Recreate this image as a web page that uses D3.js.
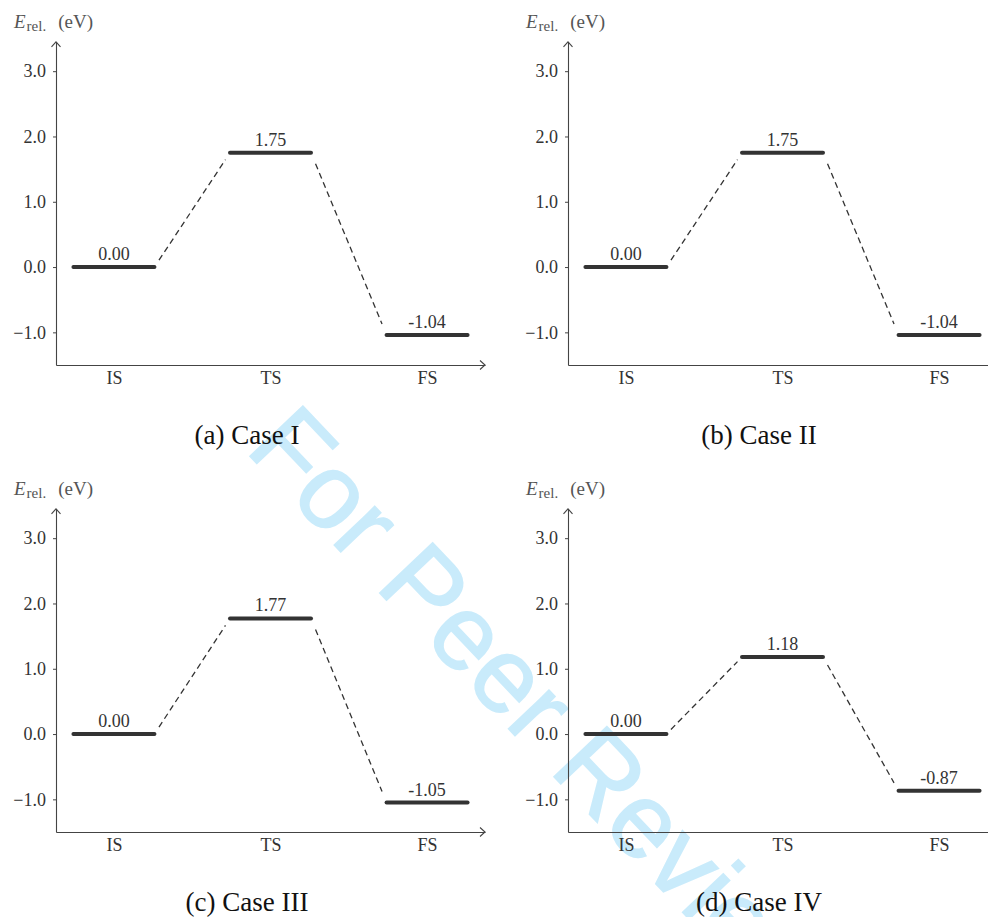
<!DOCTYPE html>
<html>
<head>
<meta charset="utf-8">
<script src="https://cdn.jsdelivr.net/npm/d3@7"></script>
<style>
  html, body { margin: 0; padding: 0; background: #fff; }
  svg { display: block; }
</style>
</head>
<body>
<svg id="chart" width="988" height="917"></svg>
<script>
// ---------- data ----------
const categories = ["IS", "TS", "FS"];
const caseI   = [0.00, 1.75, -1.04];
const caseII  = [0.00, 1.75, -1.04];
const caseIII = [0.00, 1.77, -1.05];
const caseIV  = [0.00, 1.18, -0.87];
const captions = ["(a) Case I", "(b) Case II", "(c) Case III", "(d) Case IV"];
const yTicks = [-1.0, 0.0, 1.0, 2.0, 3.0];
const yDomain = [-1.5, 3.45];
const watermarkText = "For Peer Review";

const seriesList = [caseI, caseII, caseIII, caseIV];

// ---------- layout ----------
const svg = d3.select("#chart");
const serif = "'Liberation Serif', 'Times New Roman', serif";
const panelOffsets = [[0, 0], [512, 0], [0, 467], [512, 467]];
const axX0 = 56, axX1 = 485, axY0 = 365, axY1 = 41.8;
const barHalf = 40.5;

// watermark underneath
const wm = svg.append("g").attr("transform", "translate(244,450) rotate(46.5)");
wm.append("text")
  .attr("x", 0).attr("y", 0)
  .attr("font-family", "'Liberation Sans', Arial, sans-serif")
  .attr("font-size", 106)
  .attr("fill", "#c9ebfb")
  .attr("stroke", "#c9ebfb").attr("stroke-width", 1.5)
  .text(watermarkText);

const y = d3.scaleLinear().domain(yDomain).range([axY0, axY1]);
const x = d3.scalePoint().domain(categories).range([axX0, axX1]).padding(0.37);
const fmtTick = d3.format(".1f");
const fmtVal = v => v.toFixed(2);

seriesList.forEach((vals, pi) => {
  const [dx, dy] = panelOffsets[pi];
  const g = svg.append("g").attr("transform", `translate(${dx},${dy})`);

  // y axis
  const yAxis = d3.axisLeft(y).tickValues(yTicks).tickSize(3).tickSizeOuter(0)
    .tickPadding(7).tickFormat(fmtTick);
  const ya = g.append("g").attr("transform", `translate(${axX0},0)`).call(yAxis);
  ya.select(".domain").attr("stroke", "#444").attr("stroke-width", 1.1);
  ya.selectAll(".tick line").attr("stroke", "#444");
  ya.selectAll(".tick text").attr("font-family", serif).attr("font-size", 18).attr("fill", "#333");

  // x axis
  const xAxis = d3.axisBottom(x).tickSize(0).tickSizeOuter(0).tickPadding(6.5);
  const xa = g.append("g").attr("transform", `translate(0,${axY0})`).call(xAxis);
  xa.select(".domain").attr("stroke", "#444").attr("stroke-width", 1.1);
  xa.selectAll(".tick text").attr("font-family", serif).attr("font-size", 18).attr("fill", "#333");

  // arrowheads
  g.append("path")
    .attr("d", `M${axX0 - 4.5},${axY1 + 5} L${axX0},${axY1} L${axX0 + 4.5},${axY1 + 5}`)
    .attr("fill", "none").attr("stroke", "#444").attr("stroke-width", 1.1);
  g.append("path")
    .attr("d", `M${axX1 - 5},${axY0 - 4.5} L${axX1},${axY0} L${axX1 - 5},${axY0 + 4.5}`)
    .attr("fill", "none").attr("stroke", "#444").attr("stroke-width", 1.1);

  // y label
  const lab = g.append("text").attr("x", 14).attr("y", 28)
    .attr("font-family", serif).attr("fill", "#555").attr("font-size", 19);
  lab.append("tspan").attr("font-style", "italic").text("E");
  lab.append("tspan").attr("font-size", 15).attr("dy", 3).attr("dx", 1).text("rel.");
  lab.append("tspan").attr("dy", -3).attr("dx", 12).text("(eV)");

  // dashed connectors
  const shrink = 0.06;
  for (let i = 0; i < categories.length - 1; i++) {
    const x1 = x(categories[i]) + barHalf, y1 = y(vals[i]);
    const x2 = x(categories[i + 1]) - barHalf, y2 = y(vals[i + 1]);
    g.append("line")
      .attr("x1", x1 + (x2 - x1) * shrink).attr("y1", y1 + (y2 - y1) * shrink)
      .attr("x2", x2 - (x2 - x1) * shrink).attr("y2", y2 - (y2 - y1) * shrink)
      .attr("stroke", "#333").attr("stroke-width", 1.3)
      .attr("stroke-dasharray", "6,4");
  }

  // level bars
  g.selectAll("line.level").data(vals).join("line")
    .attr("class", "level")
    .attr("x1", (d, i) => x(categories[i]) - barHalf)
    .attr("x2", (d, i) => x(categories[i]) + barHalf)
    .attr("y1", d => y(d)).attr("y2", d => y(d))
    .attr("stroke", "#333").attr("stroke-width", 4).attr("stroke-linecap", "round");

  // value labels
  g.selectAll("text.val").data(vals).join("text")
    .attr("class", "val")
    .attr("x", (d, i) => x(categories[i]))
    .attr("y", d => y(d) - 7)
    .attr("text-anchor", "middle")
    .attr("font-family", serif).attr("font-size", 18).attr("fill", "#333")
    .text(d => fmtVal(d));

  // caption
  g.append("text")
    .attr("x", 247).attr("y", 444)
    .attr("text-anchor", "middle")
    .attr("font-family", serif).attr("font-size", 27).attr("fill", "#111")
    .text(captions[pi]);
});
</script>
</body>
</html>
